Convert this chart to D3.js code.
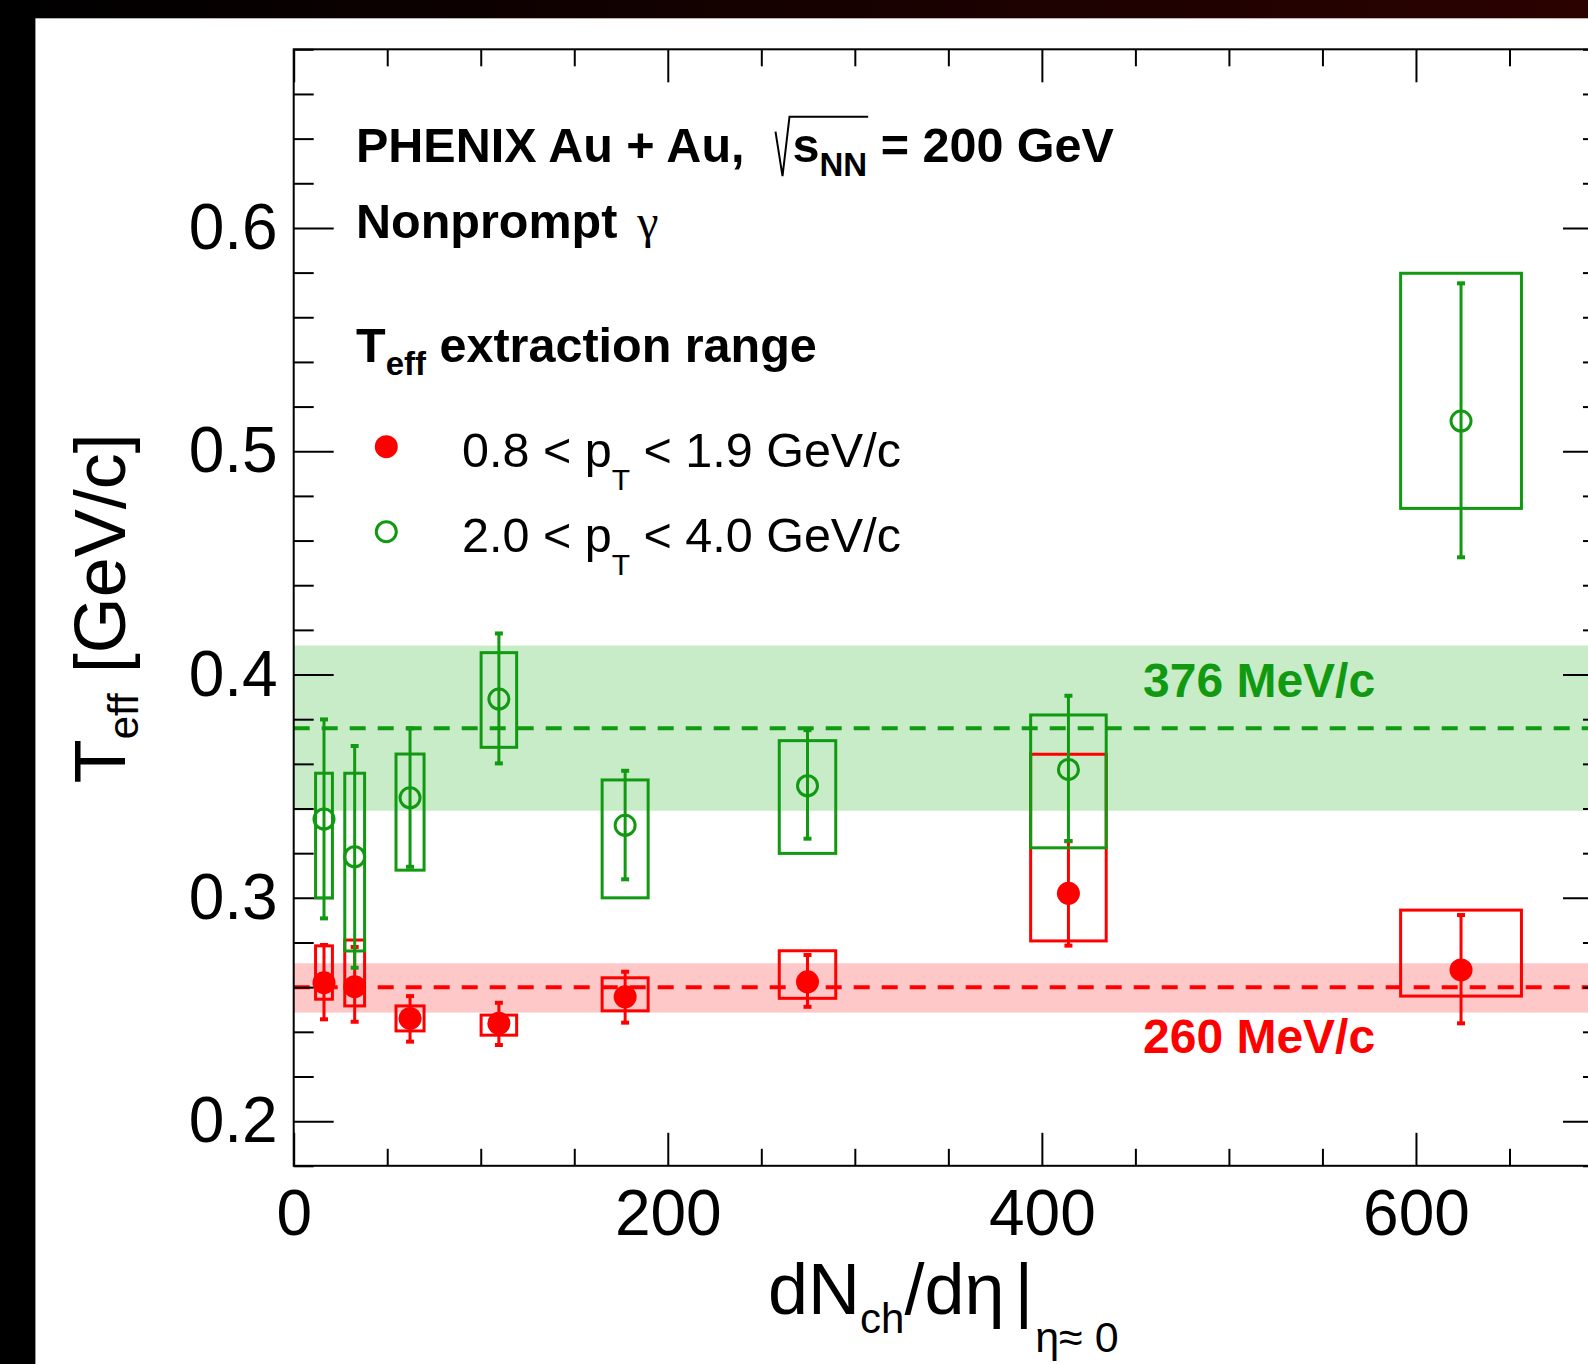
<!DOCTYPE html>
<html>
<head>
<meta charset="utf-8">
<script src="https://cdn.jsdelivr.net/npm/d3@7"></script>
<style>
  body { margin: 0; background: #fff; }
  svg { display: block; }
</style>
</head>
<body>
<svg id="chart" width="1588" height="1364"></svg>
<script>
// values
var dNdeta        = [16.2, 32.6, 62.2, 109.7, 177.2, 274.7, 414.2, 624.1];
var dNdetaBoxHalf = [4.5, 5.3, 7.5, 9.5, 12.3, 15.1, 20.2, 32.3];

// 0.8 < pT < 1.9 GeV/c  (red, filled)
var teffLow      = [0.2620, 0.2602, 0.2460, 0.2438, 0.2557, 0.2624, 0.3020, 0.2677];
var teffLowStatL = [0.2456, 0.2445, 0.2356, 0.2341, 0.2441, 0.2512, 0.2786, 0.2438];
var teffLowStatH = [0.2789, 0.2780, 0.2560, 0.2530, 0.2669, 0.2744, 0.3254, 0.2923];
var teffLowSysL  = [0.2546, 0.2516, 0.2404, 0.2385, 0.2494, 0.2550, 0.2807, 0.2560];
var teffLowSysH  = [0.2785, 0.2811, 0.2516, 0.2475, 0.2642, 0.2763, 0.3643, 0.2945];

// 2.0 < pT < 4.0 GeV/c  (green, open)
var teffHigh      = [0.3353, 0.3184, 0.3448, 0.3890, 0.3325, 0.3502, 0.3575, 0.5135];
var teffHighStatL = [0.2908, 0.2687, 0.3139, 0.3602, 0.3083, 0.3265, 0.3254, 0.4525];
var teffHighStatH = [0.3799, 0.3680, 0.3759, 0.4184, 0.3569, 0.3751, 0.3905, 0.5752];
var teffHighSysL  = [0.3000, 0.2762, 0.3124, 0.3674, 0.3000, 0.3199, 0.3224, 0.4744];
var teffHighSysH  = [0.3558, 0.3558, 0.3644, 0.4098, 0.3528, 0.3704, 0.3819, 0.5797];

// averages (center, low, high)
var bandCenter = [0.376, 0.260];
var bandLow    = [0.339, 0.2486];
var bandHigh   = [0.413, 0.2707];
var bandLabel  = ['376 MeV/c', '260 MeV/c'];

var legendRange = [['0.8 < p', 'T', ' < 1.9 GeV/c'], ['2.0 < p', 'T', ' < 4.0 GeV/c']];

var xMajorTicks = [0, 200, 400, 600];
var yMajorTicks = [0.2, 0.3, 0.4, 0.5, 0.6];

var FONT = "'Liberation Sans', Arial, Helvetica, sans-serif";
var GREEN = '#119a11', RED = '#ff0000';
var GREEN_BAND = '#c8ebc8', RED_BAND = '#ffc8c8';

var svg = d3.select('#chart');
var frame = {left: 293.7, right: 1603, top: 49.3, bottom: 1165.8};

var x = d3.scaleLinear().domain([0, 700]).range([frame.left, frame.right]);
var y = d3.scaleLinear().domain([0.18, 0.68]).range([frame.bottom, frame.top]);

var xMinorTicks = d3.range(0, 701, 50).filter(function(v){ return xMajorTicks.indexOf(v) < 0; });
var yMinorTicks = d3.range(9, 35).map(function(i){ return +(i * 0.02).toFixed(2); })
	.filter(function(v){ return yMajorTicks.indexOf(v) < 0; });

// background: black strip on the left, dark red fade on top
var defs = svg.append('defs');
var grad = defs.append('linearGradient').attr('id', 'topFade');
grad.append('stop').attr('offset', '0%').attr('stop-color', '#000');
grad.append('stop').attr('offset', '100%').attr('stop-color', '#2b0200');
svg.append('rect').attr('width', 1588).attr('height', 1364).attr('fill', '#fff');
svg.append('rect').attr('width', 1588).attr('height', 18.3).attr('fill', 'url(#topFade)');
svg.append('rect').attr('width', 35.4).attr('height', 1364).attr('fill', '#000');

// bands and dashed averages
var bandColor = [GREEN_BAND, RED_BAND], lineColor = [GREEN, RED];
bandCenter.forEach(function(c, i){
	svg.append('rect')
		.attr('x', x(0)).attr('width', x(700) - x(0))
		.attr('y', y(bandHigh[i])).attr('height', y(bandLow[i]) - y(bandHigh[i]))
		.attr('fill', bandColor[i]);
});
bandCenter.forEach(function(c, i){
	svg.append('line')
		.attr('x1', x(0)).attr('x2', x(700))
		.attr('y1', y(c)).attr('y2', y(c))
		.attr('stroke', lineColor[i]).attr('stroke-width', 4)
		.attr('stroke-dasharray', '16,12');
});

// axes, ROOT style: ticks inward on all four sides
addAxis = function(axis, transform, values, size, withLabels){
	var g = svg.append('g').attr('transform', transform)
		.call(axis.tickValues(values).tickSize(-size).tickSizeOuter(0)
			.tickFormat(withLabels ? withLabels : ''));
	g.select('.domain').remove();
	g.selectAll('.tick line').attr('stroke', '#000').attr('stroke-width', 2);
	g.selectAll('text').attr('fill', '#000').attr('font-family', FONT).attr('font-size', 64);
	return g;
};
addAxis(d3.axisBottom(x).tickPadding(24), 'translate(0,' + frame.bottom + ')', xMajorTicks, 33, d3.format('d'));
addAxis(d3.axisBottom(x), 'translate(0,' + frame.bottom + ')', xMinorTicks, 17, null);
addAxis(d3.axisTop(x), 'translate(0,' + frame.top + ')', xMajorTicks, 33, null);
addAxis(d3.axisTop(x), 'translate(0,' + frame.top + ')', xMinorTicks, 17, null);
addAxis(d3.axisLeft(y).tickPadding(16), 'translate(' + frame.left + ',0)', yMajorTicks, 40, d3.format('.1f'));
addAxis(d3.axisLeft(y), 'translate(' + frame.left + ',0)', yMinorTicks, 20, null);
addAxis(d3.axisRight(y), 'translate(' + frame.right + ',0)', yMajorTicks, 40, null);
addAxis(d3.axisRight(y), 'translate(' + frame.right + ',0)', yMinorTicks, 20, null);

svg.append('rect')
	.attr('x', frame.left).attr('y', frame.top)
	.attr('width', frame.right - frame.left).attr('height', frame.bottom - frame.top)
	.attr('fill', 'none').attr('stroke', '#000').attr('stroke-width', 2);

// data: systematic boxes, stat bars, markers
drawSeries = function(yv, stL, stH, syL, syH, color, filled){
	var g = svg.append('g');
	dNdeta.forEach(function(xv, i){
		var hw = dNdetaBoxHalf[i];
		g.append('rect')
			.attr('x', x(xv - hw)).attr('width', x(xv + hw) - x(xv - hw))
			.attr('y', y(syH[i])).attr('height', y(syL[i]) - y(syH[i]))
			.attr('fill', 'none').attr('stroke', color).attr('stroke-width', 3);
		g.append('line')
			.attr('x1', x(xv)).attr('x2', x(xv))
			.attr('y1', y(stL[i])).attr('y2', y(stH[i]))
			.attr('stroke', color).attr('stroke-width', 3);
		[stL[i], stH[i]].forEach(function(e){
			g.append('rect')
				.attr('x', x(xv) - 4).attr('y', y(e) - 2)
				.attr('width', 8).attr('height', 4).attr('fill', color);
		});
		var c = g.append('circle').attr('cx', x(xv)).attr('cy', y(yv[i]));
		if (filled){
			c.attr('r', 11.5).attr('fill', color);
		}
		else{
			c.attr('r', 10).attr('fill', 'none').attr('stroke', color).attr('stroke-width', 3);
		};
	});
};
drawSeries(teffLow, teffLowStatL, teffLowStatH, teffLowSysL, teffLowSysH, RED, true);
drawSeries(teffHigh, teffHighStatL, teffHighStatH, teffHighSysL, teffHighSysH, GREEN, false);

// text made of pieces (subscripts etc.)
rich = function(parent, x0, y0, parts){
	var cx = x0, out = [];
	parts.forEach(function(p){
		var px = cx + (p.dx || 0);
		var t = parent.append('text')
			.attr('x', px).attr('y', y0 + (p.dy || 0))
			.attr('font-family', p.family || FONT)
			.attr('font-size', p.size)
			.attr('font-weight', p.bold ? 'bold' : 'normal')
			.attr('fill', p.color || '#000')
			.attr('xml:space', 'preserve')
			.text(p.t);
		var w = t.node().getComputedTextLength();
		out.push({x0: px, x1: px + w});
		cx = px + w;
	});
	return out;
};

// header
var h1y = 161.7;
var h1 = rich(svg, 356, h1y, [
	{t: 'PHENIX Au + Au,', size: 48.5, bold: true},
	{t: 's', size: 48.5, bold: true, dx: 48},
	{t: 'NN', size: 33, bold: true, dy: 14.3},
	{t: ' = 200 GeV', size: 48.5, bold: true}
]);
var sx = h1[1].x0;
svg.append('path')
	.attr('d', 'M' + (sx - 17) + ',' + (h1y - 30) + 'L' + (sx - 10) + ',' + (h1y + 14.5) +
		'L' + (sx - 3) + ',' + (h1y - 45) + 'L' + (h1[2].x1 + 1) + ',' + (h1y - 45))
	.attr('fill', 'none').attr('stroke', '#000').attr('stroke-width', 2);

rich(svg, 356, 238.3, [
	{t: 'Nonprompt', size: 48.5, bold: true},
	{t: 'γ', size: 48, family: "'Liberation Serif', 'DejaVu Serif', serif", dx: 20}
]);
rich(svg, 356, 361.5, [
	{t: 'T', size: 48.5, bold: true},
	{t: 'eff', size: 33, bold: true, dy: 13.5},
	{t: ' extraction range', size: 48.5, bold: true}
]);

// legend
var legendColor = [RED, GREEN], legendFilled = [true, false];
legendRange.forEach(function(r, i){
	var ly = 466.7 + i * 85;
	var m = svg.append('circle').attr('cx', 386.3).attr('cy', ly - 20);
	if (legendFilled[i]){
		m.attr('r', 11.5).attr('fill', legendColor[i]);
	}
	else{
		m.attr('r', 10).attr('fill', 'none').attr('stroke', legendColor[i]).attr('stroke-width', 3);
	};
	rich(svg, 462, ly, [
		{t: r[0], size: 48.5},
		{t: r[1], size: 30, dy: 23.3},
		{t: r[2], size: 48.5}
	]);
});

// band labels
var bandLabelY = [696.8, 1053];
bandLabel.forEach(function(l, i){
	svg.append('text')
		.attr('x', 1143).attr('y', bandLabelY[i])
		.attr('font-family', FONT).attr('font-size', 48).attr('font-weight', 'bold')
		.attr('fill', lineColor[i])
		.text(l);
});

// axis titles
var yt = svg.append('g').attr('transform', 'translate(125,783.3) rotate(-90)');
rich(yt, 0, 0, [
	{t: 'T', size: 72},
	{t: 'eff', size: 42, dy: 13},
	{t: ' [GeV/c]', size: 72}
]);
rich(svg, 768, 1314.3, [
	{t: 'dN', size: 72},
	{t: 'ch', size: 42, dy: 19},
	{t: '/dη', size: 72},
	{t: '|', size: 72, dx: 10},
	{t: 'η≈ 0', size: 43, dy: 38, dx: 2}
]);
</script>
</body>
</html>
